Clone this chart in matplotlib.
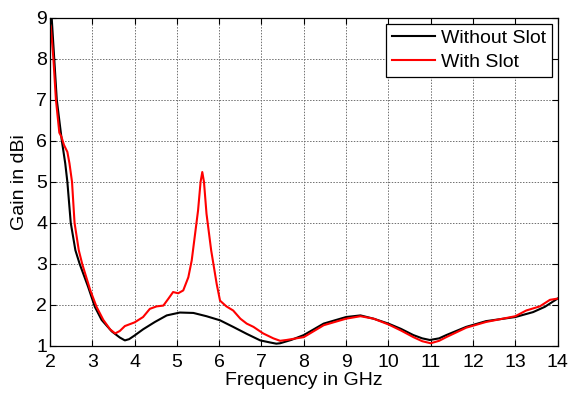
import numpy as np
import matplotlib.pyplot as plt

plt.rcParams['font.family'] = ['Liberation Sans', 'DejaVu Sans']

# Gain without slot
f_without = [2.0, 2.04, 2.1, 2.16, 2.28, 2.36, 2.41, 2.49, 2.6, 2.7, 2.9, 3.06,
             3.22, 3.46, 3.65, 3.77, 3.87, 4.0, 4.2, 4.48, 4.76,
             5.07, 5.39, 5.7, 6.02, 6.33, 6.65, 6.97, 7.2, 7.35, 7.44, 7.7, 8.0,
             8.47, 9.0, 9.34, 9.65, 10.0, 10.3, 10.59, 10.8, 10.98, 11.2, 11.37,
             11.84, 12.31, 13.0, 13.42, 13.7, 14.0]
g_without = [9.4, 9.0, 8.0, 7.0, 6.0, 5.45, 5.0, 4.0, 3.33, 3.0, 2.44, 1.95,
             1.63, 1.35, 1.2, 1.13, 1.16, 1.25, 1.4, 1.58, 1.74,
             1.81, 1.8, 1.72, 1.62, 1.46, 1.29, 1.13, 1.08, 1.05, 1.06, 1.14,
             1.26, 1.54, 1.7, 1.74, 1.66, 1.54, 1.41, 1.26, 1.18, 1.14, 1.18,
             1.26, 1.46, 1.6, 1.7, 1.82, 1.95, 2.15]

# Gain with slot
f_with = [2.0, 2.02, 2.08, 2.14, 2.22, 2.27, 2.33, 2.41, 2.46, 2.52, 2.58, 2.68,
          2.76, 2.95, 3.1, 3.26, 3.42, 3.54, 3.65, 3.77, 4.0, 4.2,
          4.36, 4.52, 4.68, 4.8, 4.91, 5.03, 5.15, 5.27, 5.35, 5.43, 5.5, 5.56,
          5.6, 5.64, 5.7, 5.81, 5.94, 6.02, 6.17, 6.33, 6.5, 6.65, 6.81, 7.04,
          7.28, 7.44, 7.59, 8.0, 8.47, 9.0, 9.34, 9.65, 10.0, 10.3, 10.59,
          10.8, 11.0, 11.2, 11.37, 11.84, 12.31, 13.0, 13.26, 13.58, 13.82, 14.0]
g_with = [8.85, 8.78, 8.0, 7.0, 6.2, 6.1, 5.9, 5.73, 5.45, 5.0, 4.0, 3.33,
          3.0, 2.36, 1.95, 1.63, 1.4, 1.3, 1.36, 1.48, 1.57, 1.7,
          1.9, 1.96, 1.98, 2.15, 2.31, 2.28, 2.35, 2.67, 3.08, 3.73, 4.3, 5.0,
          5.24, 5.0, 4.22, 3.33, 2.51, 2.1, 1.96, 1.86, 1.66, 1.54, 1.46, 1.3,
          1.18, 1.12, 1.14, 1.21, 1.5, 1.66, 1.72, 1.66, 1.52, 1.37, 1.21,
          1.11, 1.06, 1.12, 1.21, 1.44, 1.58, 1.72, 1.86, 1.96, 2.12, 2.15]

fig = plt.figure(figsize=(5.69, 3.93), dpi=100)
ax = fig.add_axes([0.0879, 0.1203, 0.892, 0.834])

ax.plot(f_without, g_without, color='black', lw=1.5, label='Without Slot')
ax.plot(f_with, g_with, color='red', lw=1.5, label='With Slot')

ax.set_xlim(2, 14)
ax.set_ylim(1, 9)
ax.set_xticks(np.arange(2, 15, 1))
ax.set_yticks(np.arange(1, 10, 1))
ax.grid(True, color='#707070', linestyle=(0, (1.5, 1.5)), lw=0.7)
ax.tick_params(direction='in', top=True, right=True, labelsize=14, length=4)
ax.tick_params(axis='x', pad=6)
ax.tick_params(axis='y', pad=2)
for s in ax.spines.values():
    s.set_linewidth(0.9)

ax.set_xlabel('Frequency in GHz', fontsize=14, labelpad=1)
ax.set_ylabel('Gain in dBi', fontsize=14, labelpad=6)

leg = ax.legend(loc='upper right', fontsize=14, fancybox=False, edgecolor='black',
                framealpha=1, handlelength=2.2, borderpad=0.3, labelspacing=0.3,
                handletextpad=0.3, borderaxespad=0.3)
leg.get_frame().set_linewidth(0.9)

fig.savefig('out.png', dpi=100)
